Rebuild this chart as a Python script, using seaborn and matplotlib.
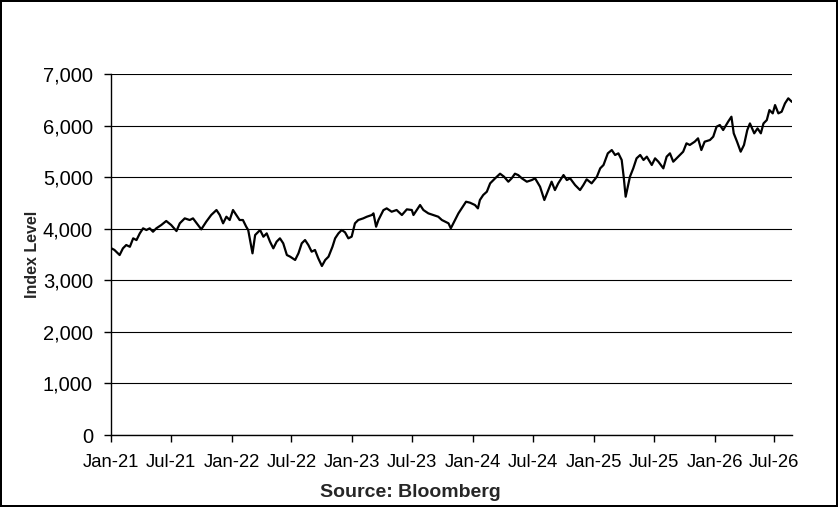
import numpy as np
import pandas as pd
import matplotlib
matplotlib.use('Agg')
import matplotlib.pyplot as plt
import matplotlib.dates as mdates
from matplotlib.ticker import FuncFormatter
import seaborn as sns

# Index level (roughly every 10 days)
dates = [
    '2021-01-02', '2021-01-11', '2021-01-27', '2021-02-06', '2021-02-16', '2021-02-27',
    '2021-03-09', '2021-03-19', '2021-03-29', '2021-04-08', '2021-04-18', '2021-04-28',
    '2021-05-08', '2021-05-18', '2021-06-02', '2021-06-17', '2021-07-02', '2021-07-18',
    '2021-07-28', '2021-08-12', '2021-08-27', '2021-09-06', '2021-09-21', '2021-10-01',
    '2021-10-16', '2021-10-31', '2021-11-16', '2021-11-26', '2021-12-06', '2021-12-16',
    '2021-12-26', '2022-01-05', '2022-01-15', '2022-01-25', '2022-02-04', '2022-02-14',
    '2022-02-20', '2022-03-05', '2022-03-13', '2022-03-28', '2022-04-07', '2022-04-17',
    '2022-04-27', '2022-05-07', '2022-05-17', '2022-05-27', '2022-06-06', '2022-06-17',
    '2022-06-27', '2022-07-12', '2022-07-22', '2022-08-01', '2022-08-11', '2022-08-21',
    '2022-08-31', '2022-09-10', '2022-09-20', '2022-10-01', '2022-10-11', '2022-10-21',
    '2022-11-02', '2022-11-10', '2022-11-20', '2022-11-30', '2022-12-10', '2022-12-20',
    '2022-12-30', '2023-01-09', '2023-01-19', '2023-02-03', '2023-02-14', '2023-03-01',
    '2023-03-06', '2023-03-14', '2023-03-21', '2023-03-31', '2023-04-05', '2023-04-15',
    '2023-04-30', '2023-05-15', '2023-05-31', '2023-06-15', '2023-06-30', '2023-07-05',
    '2023-07-15', '2023-07-25', '2023-08-04', '2023-08-19', '2023-09-03', '2023-09-18',
    '2023-09-29', '2023-10-09', '2023-10-19', '2023-10-26', '2023-11-05', '2023-11-18',
    '2023-11-28', '2023-12-11', '2023-12-23', '2024-01-07', '2024-01-16', '2024-01-22',
    '2024-02-01', '2024-02-12', '2024-02-22', '2024-03-08', '2024-03-23', '2024-04-04',
    '2024-04-17', '2024-04-27', '2024-05-07', '2024-05-17', '2024-05-28', '2024-06-12',
    '2024-06-27', '2024-07-07', '2024-07-22', '2024-08-04', '2024-08-16', '2024-08-26',
    '2024-09-05', '2024-09-15', '2024-10-01', '2024-10-11', '2024-10-21', '2024-11-05',
    '2024-11-20', '2024-11-30', '2024-12-10', '2024-12-25', '2025-01-10', '2025-01-20',
    '2025-01-30', '2025-02-12', '2025-02-24', '2025-03-06', '2025-03-16', '2025-03-26',
    '2025-04-01', '2025-04-07', '2025-04-20', '2025-04-30', '2025-05-10', '2025-05-21',
    '2025-05-31', '2025-06-10', '2025-06-25', '2025-07-05', '2025-07-15', '2025-07-30',
    '2025-08-09', '2025-08-19', '2025-08-29', '2025-09-13', '2025-09-28', '2025-10-08',
    '2025-10-18', '2025-11-02', '2025-11-12', '2025-11-22', '2025-12-02', '2025-12-18',
    '2025-12-28', '2026-01-07', '2026-01-17', '2026-01-27', '2026-02-11', '2026-02-21',
    '2026-02-28', '2026-03-10', '2026-03-21', '2026-03-31', '2026-04-10', '2026-04-18',
    '2026-05-01', '2026-05-11', '2026-05-21', '2026-05-29', '2026-06-08', '2026-06-16',
    '2026-06-26', '2026-07-03', '2026-07-13', '2026-07-23', '2026-08-02', '2026-08-12',
    '2026-08-23',
]
index_level = [
    3620, 3590, 3490, 3620, 3684, 3650,
    3814, 3780, 3910, 4008, 3975, 4008,
    3942, 4008, 4072, 4150, 4072, 3955,
    4105, 4201, 4169, 4201, 4072, 3988,
    4136, 4266, 4363, 4266, 4105, 4233,
    4169, 4363, 4266, 4169, 4169, 4039,
    3975, 3523, 3878, 3975, 3845, 3910,
    3749, 3620, 3749, 3814, 3717, 3490,
    3458, 3394, 3523, 3717, 3781, 3684,
    3555, 3588, 3426, 3277, 3394, 3458,
    3652, 3814, 3910, 3975, 3930, 3814,
    3846, 4105, 4169, 4201, 4233, 4266,
    4298, 4039, 4169, 4298, 4360, 4395,
    4330, 4363, 4266, 4376, 4363, 4266,
    4363, 4460, 4363, 4298, 4266, 4233,
    4169, 4136, 4105, 4008, 4136, 4298,
    4395, 4524, 4505, 4460, 4395, 4557,
    4654, 4718, 4880, 4977, 5067, 5009,
    4912, 4977, 5067, 5040, 4977, 4912,
    4944, 4977, 4815, 4557, 4750, 4912,
    4750, 4880, 5041, 4944, 4977, 4847,
    4750, 4847, 4958, 4880, 5009, 5171,
    5236, 5462, 5526, 5430, 5462, 5333,
    5009, 4621, 5009, 5171, 5365, 5430,
    5333, 5397, 5236, 5365, 5300, 5171,
    5397, 5462, 5300, 5397, 5494, 5656,
    5624, 5688, 5753, 5526, 5688, 5720,
    5785, 5978, 6011, 5914, 6075, 6172,
    5850, 5688, 5494, 5624, 5914, 6042,
    5850, 5946, 5850, 6042, 6107, 6301,
    6237, 6398, 6237, 6269, 6430, 6529,
    6460,
]
y_ticks = [0, 1000, 2000, 3000, 4000, 5000, 6000, 7000]

df = pd.DataFrame({'date': pd.to_datetime(dates), 'level': index_level})

sns.set_style('white')
plt.rcParams['font.family'] = ['Liberation Sans', 'DejaVu Sans']

fig = plt.figure(figsize=(8.38, 5.07), dpi=100, edgecolor='black', linewidth=1.5)
ax = fig.add_axes([0.1325, 0.142, 0.8125, 0.712])

sns.lineplot(data=df, x='date', y='level', ax=ax, color='black', linewidth=1.6)

ax.set_ylim(0, 7000)
ax.set_yticks(y_ticks)
ax.yaxis.set_major_formatter(FuncFormatter(lambda v, p: '{:,.0f}'.format(v)))
ax.set_xlim(pd.Timestamp('2021-01-01'), pd.Timestamp('2026-08-23'))
ax.xaxis.set_major_locator(mdates.MonthLocator(bymonth=[1, 7]))
ax.xaxis.set_major_formatter(mdates.DateFormatter('%b-%y'))

ax.grid(axis='y', color='black', linewidth=0.8)
ax.set_axisbelow(True)
for side in ['top', 'right']:
    ax.spines[side].set_visible(False)
for side in ['left', 'bottom']:
    ax.spines[side].set_color('black')
    ax.spines[side].set_linewidth(1.0)

ax.tick_params(axis='both', which='major', direction='out', length=5, width=1,
               color='black', labelcolor='black', left=True, bottom=True)
ax.tick_params(axis='x', labelsize=13.3, pad=9)
ax.tick_params(axis='y', labelsize=14.5, pad=8)

ax.set_xlabel('Source: Bloomberg', fontsize=14, fontweight='bold', labelpad=10)
ax.xaxis.set_label_coords(0.439, -0.135)
ax.set_ylabel('Index Level', fontsize=11.5, fontweight='bold', labelpad=2)

fig.savefig('out.png', dpi=100, edgecolor=fig.get_edgecolor())
